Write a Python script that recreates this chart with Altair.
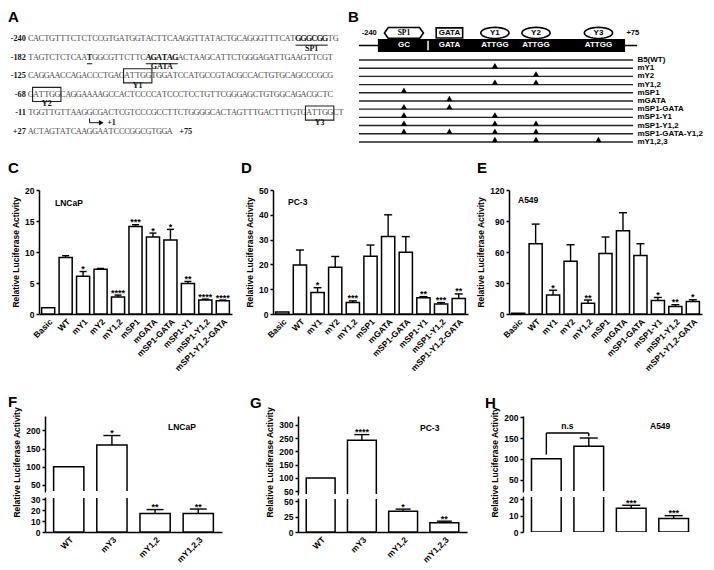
import altair as alt
import pandas as pd
import numpy as np

FONT = "Liberation Sans"
SERIF = "Liberation Serif"

# ---------------- Panel A : promoter sequence ----------------
seq_labels = ["-240", "-182", "-125", "-68", "-11", "+27"]
seq_lines = [
    "CACTGTTTCTCTCCGTGATGGTACTTCAAGGTTATACTGCAGGGTTTCATGGGCGGTG",
    "TAGTCTCTCAATGGCGTTCTTCAGATAGACTAAGCATTCTGGGAGATTGAAGTTCGT",
    "CAGGAACCAGACCCTGAGATTGGTGGATCCATGCCGTACGCCACTGTGCAGCCCGCG",
    "GATTGGCAGGAAAAGCCACTCCCCATCCCTCCTGTTCGGGAGCTGTGGCAGACGCTC",
    "TGGTTGTTAAGGCGACTCGTCCCGCCTTCTGGGGCACTAGTTTGACTTTGTGATTGGCT",
    "ACTAGTATCAAGGAATCCCGGCGTGGA",
]
end_label = "+75"
elem_names = ["SP1", "", "GATA", "Y1", "Y2", "Y3"]
elem_row = [0, 1, 1, 2, 3, 4]
elem_start = [50, 11, 22, 18, 1, 52]
elem_end = [55, 11, 27, 22, 5, 56]
elem_style = ["underline", "underline", "underline", "box", "box", "box"]
tss_row = 4
tss_index = 12

# ---------------- Panel B : constructs ----------------
site_names = ["SP1", "GATA", "Y1", "Y2", "Y3"]
site_core = ["GC", "GATA", "ATTGG", "ATTGG", "ATTGG"]
site_pos = [16.4, 33.0, 49.6, 64.6, 87.4]
construct_names = ["B5(WT)", "mY1", "mY2", "mY1,2", "mSP1", "mGATA", "mSP1-GATA",
                   "mSP1-Y1", "mSP1-Y1,2", "mSP1-GATA-Y1,2", "mY1,2,3"]
construct_sites = [[], ["Y1"], ["Y2"], ["Y1", "Y2"], ["SP1"], ["GATA"], ["SP1", "GATA"],
                   ["SP1", "Y1"], ["SP1", "Y1", "Y2"], ["SP1", "GATA", "Y1", "Y2"], ["Y1", "Y2", "Y3"]]

# ---------------- Panels C-E ----------------
cats11 = ["Basic", "WT", "mY1", "mY2", "mY1,2", "mSP1", "mGATA", "mSP1-GATA",
          "mSP1-Y1", "mSP1-Y1,2", "mSP1-Y1,2-GATA"]
lncap_vals = [1.0, 9.1, 6.1, 7.2, 2.75, 14.1, 12.4, 11.95, 4.9, 2.25, 2.15]
lncap_errs = [0.0, 0.3, 0.75, 0.15, 0.3, 0.3, 0.65, 1.7, 0.35, 0.15, 0.1]
lncap_stars = ["", "", "*", "", "****", "***", "*", "*", "**", "****", "****"]
pc3_vals = [0.8, 19.8, 8.7, 18.9, 4.6, 23.3, 31.2, 24.9, 6.6, 4.0, 6.2]
pc3_errs = [0.0, 6.0, 1.9, 4.3, 0.7, 4.5, 8.8, 6.3, 0.4, 0.6, 1.9]
pc3_stars = ["", "", "*", "", "***", "", "", "", "**", "***", "**"]
a549_vals = [0.8, 68.0, 18.5, 51.0, 10.5, 58.5, 80.5, 56.5, 13.0, 7.2, 12.0]
a549_errs = [0.0, 19.0, 4.5, 16.0, 3.0, 16.0, 17.5, 11.5, 3.0, 1.8, 1.8]
a549_stars = ["", "", "*", "", "**", "", "", "", "*", "**", "*"]

# ---------------- Panels F-H ----------------
cats4 = ["WT", "mY3", "mY1,2", "mY1,2,3"]
f_vals = [100, 160, 17, 17]
f_errs = [0, 26, 3.5, 4]
f_stars = ["", "*", "**", "**"]
g_vals = [100, 242, 33.5, 15]
g_errs = [0, 21, 3.5, 2.5]
g_stars = ["", "****", "*", "**"]
h_vals = [100, 130, 14.5, 8.3]
h_errs = [0, 20, 1.8, 1.7]
h_stars = ["", "", "***", "***"]
h_ns_label = "n.s"
h_ns_y = [162, 110, 154]

YTITLE = "Relative Luciferase Activity"


def one(**kw):
    return pd.DataFrame({k: [v] for k, v in kw.items()})


def letter_layer(t, x, y):
    return alt.Chart(one(t=t)).mark_text(
        font=FONT, fontSize=15, fontWeight="bold", color="black", align="left", baseline="middle"
    ).encode(x=alt.value(x), y=alt.value(y), text="t:N")


def cell_layer(t, x, y):
    return alt.Chart(one(t=t)).mark_text(
        font=FONT, fontSize=8.5, fontWeight="bold", color="black", align="left", baseline="middle"
    ).encode(x=alt.value(x), y=alt.value(y), text="t:N")


# ======================= Panel A chart =======================
sxA = alt.Scale(domain=[-4.24, 59.3], nice=False, zero=False)
syA = alt.Scale(domain=[-1.667, 5.968], nice=False, zero=False, reverse=True)


def XA(f):
    return alt.X(f, type="quantitative", scale=sxA, axis=None)


def YA(f):
    return alt.Y(f, type="quantitative", scale=syA, axis=None)


rows = []
bold_set = set()
for r, s, e, st in zip(elem_row, elem_start, elem_end, elem_style):
    if st == "underline":
        for j in range(s, e + 1):
            bold_set.add((r, j))
for r, line in enumerate(seq_lines):
    for j, c in enumerate(line):
        rows.append({"row": r, "i": j, "ch": c, "bold": (r, j) in bold_set})
char_df = pd.DataFrame(rows)
elem_df = pd.DataFrame({"name": elem_names, "row": elem_row, "start": elem_start,
                        "end": elem_end, "style": elem_style})

a_norm = alt.Chart(char_df[~char_df.bold]).mark_text(
    font=SERIF, fontSize=8.3, color="#4a4a4a", align="center", baseline="middle"
).encode(x=XA("i"), y=YA("row"), text="ch:N")
a_bold = alt.Chart(char_df[char_df.bold]).mark_text(
    font=SERIF, fontSize=8.3, fontWeight="bold", color="#111", align="center", baseline="middle"
).encode(x=XA("i"), y=YA("row"), text="ch:N")
lab_df = pd.DataFrame({"row": list(range(len(seq_labels))), "lab": seq_labels})
a_labs = alt.Chart(lab_df).mark_text(
    font=SERIF, fontSize=8.3, fontWeight="bold", color="#111", align="right", baseline="middle"
).encode(x=alt.X(datum=-0.9, type="quantitative", scale=sxA, axis=None), y=YA("row"), text="lab:N")
a_end = alt.Chart(one(row=len(seq_lines) - 1, i=len(seq_lines[-1]), lab=end_label)).mark_text(
    font=SERIF, fontSize=8.3, fontWeight="bold", color="#111", align="left", baseline="middle", dx=4
).encode(x=XA("i"), y=YA("row"), text="lab:N")
a_under = alt.Chart(elem_df[elem_df["style"] == "underline"]).transform_calculate(
    x0="datum.start - 0.5", x1="datum.end + 0.5", yy="datum.row + 0.33"
).mark_rule(color="#111", strokeWidth=1).encode(x=XA("x0"), x2="x1:Q", y=YA("yy"))
a_box = alt.Chart(elem_df[elem_df["style"] == "box"]).transform_calculate(
    x0="datum.start - 0.65", x1="datum.end + 0.65", y0="datum.row - 0.4", y1="datum.row + 0.36"
).mark_rect(fill=None, stroke="#222", strokeWidth=1.1).encode(x=XA("x0"), x2="x1:Q", y=YA("y0"), y2="y1:Q")
a_elab = alt.Chart(elem_df[elem_df["name"] != ""]).transform_calculate(
    xc="(datum.start + datum.end) / 2", yy="datum.row + 0.52"
).mark_text(font=SERIF, fontSize=8, fontWeight="bold", color="#111", baseline="middle").encode(
    x=XA("xc"), y=YA("yy"), text="name:N")
tss_df = one(row=tss_row, i=tss_index)
a_tss_v = alt.Chart(tss_df).transform_calculate(
    xx="datum.i - 1.0", y0="datum.row + 0.27", y1="datum.row + 0.5"
).mark_rule(color="#111", strokeWidth=1).encode(x=XA("xx"), y=YA("y0"), y2="y1:Q")
a_tss_h = alt.Chart(tss_df).transform_calculate(
    x0="datum.i - 1.0", x1="datum.i + 1.0", yy="datum.row + 0.5"
).mark_rule(color="#111", strokeWidth=1).encode(x=XA("x0"), x2="x1:Q", y=YA("yy"))
a_tss_head = alt.Chart(tss_df).transform_calculate(
    xx="datum.i + 1.2", yy="datum.row + 0.5"
).mark_point(shape="triangle-right", filled=True, color="#111", size=30, opacity=1).encode(x=XA("xx"), y=YA("yy"))
a_tss_t = alt.Chart(tss_df).transform_calculate(
    xx="datum.i + 2.3", yy="datum.row + 0.52"
).mark_text(font=SERIF, fontSize=8, fontWeight="bold", color="#111", align="left", baseline="middle", text="+1").encode(
    x=XA("xx"), y=YA("yy"))

chartA = alt.layer(a_norm, a_bold, a_labs, a_end, a_under, a_box, a_elab,
                   a_tss_v, a_tss_h, a_tss_head, a_tss_t, letter_layer("A", 0, 8.5)
                   ).properties(width=340, height=142)

# ======================= Panel B chart =======================
sxB = alt.Scale(domain=[0, 100], nice=False, zero=False)
syB = alt.Scale(domain=[-6.34, 10.98], nice=False, zero=False, reverse=True)


def XB(f):
    return alt.X(f, type="quantitative", scale=sxB, axis=None)


def YB(f):
    return alt.Y(f, type="quantitative", scale=syB, axis=None)


def XBd(v):
    return alt.X(datum=v, type="quantitative", scale=sxB, axis=None)


def YBd(v):
    return alt.Y(datum=v, type="quantitative", scale=syB, axis=None)


HEAD_Y = -3.3
BOX_Y = -1.77
site_df = pd.DataFrame({"site": site_names, "core": site_core, "pos": site_pos})
cons_df = pd.DataFrame({"name": construct_names, "row": list(range(len(construct_names)))})
mut_rows = []
for r, sites in enumerate(construct_sites):
    for s in sites:
        mut_rows.append({"row": r, "pos": site_pos[site_names.index(s)]})
mut_df = pd.DataFrame(mut_rows)

base_one = alt.Chart(one(a=0))
b_base = base_one.mark_rule(color="black", strokeWidth=1.5).encode(
    x=XBd(0), x2=alt.X2(datum=101.5), y=YBd(BOX_Y))
b_box = base_one.mark_rect(color="black").encode(
    x=XBd(6.9), x2=alt.X2(datum=97.1), y=YBd(-2.57), y2=alt.Y2(datum=-0.97))
b_sep = base_one.mark_rule(color="white", strokeWidth=1.5).encode(
    x=XBd(25.2), y=YBd(-2.35), y2=alt.Y2(datum=-1.2))
b_core = alt.Chart(site_df).mark_text(font=FONT, fontSize=8, fontWeight="bold", color="white",
                                      baseline="middle").encode(x=XB("pos"), y=YBd(BOX_Y), text="core:N")

hex_path = "M-1,0L-0.8,-0.28L0.8,-0.28L1,0L0.8,0.28L-0.8,0.28Z"
rect_path = "M-1,-0.38L1,-0.38L1,0.38L-1,0.38Z"
ang = np.linspace(0, 2 * np.pi, 33)[:-1]
ell_path = "M" + "L".join(f"{np.cos(a):.3f},{0.39 * np.sin(a):.3f}" for a in ang) + "Z"

b_hex = alt.Chart(site_df[site_df.site == "SP1"]).mark_point(
    shape=hex_path, size=1521, filled=True, fill="white", stroke="black", strokeWidth=1.6, opacity=1
).encode(x=XB("pos"), y=YBd(HEAD_Y))
b_rect = alt.Chart(site_df[site_df.site == "GATA"]).mark_point(
    shape=rect_path, size=700, filled=True, fill="white", stroke="black", strokeWidth=1.6, opacity=1
).encode(x=XB("pos"), y=YBd(HEAD_Y))
b_ell = alt.Chart(site_df[site_df.site.str.startswith("Y")]).mark_point(
    shape=ell_path, size=800, filled=True, fill="white", stroke="black", strokeWidth=1.6, opacity=1
).encode(x=XB("pos"), y=YBd(HEAD_Y))
b_head_sp1 = alt.Chart(site_df[site_df.site == "SP1"]).mark_text(
    font=SERIF, fontSize=7.5, fontWeight="bold", color="black", baseline="middle"
).encode(x=XB("pos"), y=YBd(HEAD_Y), text="site:N")
b_head_oth = alt.Chart(site_df[site_df.site != "SP1"]).mark_text(
    font=FONT, fontSize=8, fontWeight="bold", color="black", baseline="middle"
).encode(x=XB("pos"), y=YBd(HEAD_Y), text="site:N")
b_ends = alt.Chart(pd.DataFrame({"t": ["-240", "+75"], "p": [1.0, 97.6]})).mark_text(
    font=FONT, fontSize=7.5, fontWeight="bold", color="black", align="left", baseline="middle"
).encode(x=XB("p"), y=YBd(HEAD_Y), text="t:N")
b_lines = alt.Chart(cons_df).mark_rule(color="#222", strokeWidth=1.4).encode(
    x=XBd(0), x2=alt.X2(datum=100), y=YB("row"))
b_names = alt.Chart(cons_df).mark_text(
    font=FONT, fontSize=8, fontWeight="bold", color="black", align="left", baseline="middle"
).encode(x=XBd(101.6), y=YB("row"), text="name:N")
b_tri = alt.Chart(mut_df).mark_point(shape="triangle-up", filled=True, color="black", size=38,
                                     opacity=1, yOffset=-2.5).encode(x=XB("pos"), y=YB("row"))

chartB = alt.layer(b_base, b_box, b_sep, b_core, b_hex, b_rect, b_ell, b_head_sp1, b_head_oth,
                   b_ends, b_lines, b_names, b_tri, letter_layer("B", -11, 8.5)
                   ).properties(width=274, height=142)


# ======================= bar chart helpers =======================
def x_enc(cats, band):
    xs = alt.Scale(domain=cats, paddingInner=band[0], paddingOuter=band[1])
    ax = alt.Axis(title=None, labelAngle=315, labelAlign="right", labelBaseline="top",
                  ticks=False, labelPadding=3)
    return alt.X("cat:N", scale=xs, axis=ax, sort=cats)


def bar_layers(df, cats, band, ys, yax, capw, bar_filter, err_filter, star_filter, y2_datum):
    X = x_enc(cats, band)

    def Y(f):
        return alt.Y(f, type="quantitative", scale=ys, axis=yax)

    base = alt.Chart(df)
    bars = base.transform_filter(bar_filter).mark_bar(
        fill="white", stroke="black", strokeWidth=1.5, clip=True
    ).encode(x=X, y=Y("val"), y2=alt.datum(y2_datum))
    e = base.transform_filter(err_filter)
    rule = e.mark_rule(color="black", strokeWidth=1.4, clip=True).encode(x=X, y=Y("val"), y2="top:Q")
    cap = e.mark_tick(color="black", thickness=1.4, size=capw, clip=True, opacity=1).encode(x=X, y=Y("top"))
    st = base.transform_filter(star_filter).mark_text(
        font=FONT, fontSize=9, fontWeight="bold", color="black", baseline="alphabetic", dy=0.5
    ).encode(x=X, y=Y("top"), text="star:N")
    return [bars, rule, cap, st], Y


def make_df(cats, vals, errs, stars):
    df = pd.DataFrame({"cat": cats, "val": vals, "err": errs, "star": stars})
    df["top"] = df["val"] + df["err"]
    return df


def simple_bar(cats, vals, errs, stars, domain, ticks, width, height, capw, letter, letter_xy, cell, cell_xy):
    df = make_df(cats, vals, errs, stars)
    ys = alt.Scale(domain=domain, nice=False, zero=False)
    yax = alt.Axis(values=ticks, tickSize=3, labelPadding=2, title=YTITLE)
    layers, _ = bar_layers(df, cats, (0.25, 0.15), ys, yax, capw,
                           "true", "datum.err > 0", "datum.star != ''", 0)
    layers.append(cell_layer(cell, *cell_xy))
    layers.append(letter_layer(letter, *letter_xy))
    return alt.layer(*layers).properties(width=width, height=height)


def broken_bar(cats, vals, errs, stars, up_dom, up_ticks, low_dom, low_ticks, up_h, gap, low_h,
               width, capw, letter, letter_xy, cell, cell_xy, title_y, ns=None):
    df = make_df(cats, vals, errs, stars)
    band = (0.3, 0.2)
    total = up_h + gap + low_h
    ys_up = alt.Scale(domain=up_dom, range=[up_h, 0], nice=False, zero=False, clamp=True)
    ys_low = alt.Scale(domain=low_dom, range=[total, up_h + gap], nice=False, zero=False, clamp=True)
    ax_up = alt.Axis(values=up_ticks, tickSize=3, labelPadding=2, title=YTITLE, titleY=title_y, orient="left")
    ax_low = alt.Axis(values=low_ticks, tickSize=3, labelPadding=2, title=None, orient="left")
    lo_u, hi_l = up_dom[0], low_dom[1]
    up_layers, Yu = bar_layers(df, cats, band, ys_up, ax_up, capw,
                               f"datum.val > {lo_u}", f"datum.err > 0 && datum.val >= {lo_u}",
                               f"datum.star != '' && datum.val > {lo_u}", up_dom[0])
    low_layers, Yl = bar_layers(df, cats, band, ys_low, ax_low, capw,
                                "true", f"datum.err > 0 && datum.top <= {hi_l}",
                                f"datum.star != '' && datum.top < {hi_l} && datum.val <= {lo_u}", 0)
    if ns is not None:
        xs = alt.Scale(domain=cats, paddingInner=band[0], paddingOuter=band[1])
        bdf = pd.DataFrame({"c1": [cats[0]], "c2": [cats[1]], "yh": [ns[1][0]], "y1": [ns[1][1]],
                            "y2": [ns[1][2]], "t": [ns[0]]})
        b = alt.Chart(bdf)
        up_layers += [
            b.mark_rule(color="black", strokeWidth=1.4).encode(
                x=alt.X("c1:N", scale=xs, axis=None), x2="c2:N", y=Yu("yh")),
            b.mark_rule(color="black", strokeWidth=1.4).encode(
                x=alt.X("c1:N", scale=xs, axis=None), y=Yu("yh"), y2="y1:Q"),
            b.mark_rule(color="black", strokeWidth=1.4).encode(
                x=alt.X("c2:N", scale=xs, axis=None), y=Yu("yh"), y2="y2:Q"),
            b.mark_text(font=FONT, fontSize=8.5, fontWeight="bold", color="black",
                        baseline="bottom", dy=-2, dx=21).encode(
                x=alt.X("c1:N", scale=xs, axis=None), y=Yu("yh"), text="t:N"),
        ]
    up_layers.append(cell_layer(cell, *cell_xy))
    up_layers.append(letter_layer(letter, *letter_xy))
    mask = alt.Chart(one(a=0)).mark_rect(color="white").encode(
        x=alt.value(1), x2=alt.value(width + 2), y=alt.value(up_h - 0.9), y2=alt.value(up_h + gap + 0.9))
    upper = alt.layer(*up_layers)
    lower = alt.layer(*low_layers)
    return alt.layer(upper, lower, mask).resolve_scale(y="independent").resolve_axis(
        y="independent").properties(width=width, height=total)


chartC = simple_bar(cats11, lncap_vals, lncap_errs, lncap_stars, [0, 20], [0, 5, 10, 15, 20],
                    193, 124, 7, "C", (-31, -22), "LNCaP", (16, 13))
chartD = simple_bar(cats11, pc3_vals, pc3_errs, pc3_stars, [0, 50], [0, 10, 20, 30, 40, 50],
                    195, 124, 8, "D", (-32, -22), "PC-3", (15, 12))
chartE = simple_bar(cats11, a549_vals, a549_errs, a549_stars, [0, 120], [0, 30, 60, 90, 120],
                    193, 124, 8, "E", (-32, -22), "A549", (9, 10))

chartF = broken_bar(cats4, f_vals, f_errs, f_stars, [30, 240], [50, 100, 150, 200], [0, 32], [0, 10, 20, 30],
                    76, 5, 35, 177, 17, "F", (-37, -14), "LNCaP", (123, 11), 46)
chartG = broken_bar(cats4, g_vals, g_errs, g_stars, [36, 333], [50, 100, 150, 200, 250, 300], [0, 55], [0, 25, 50],
                    79, 3, 34, 169, 15, "G", (-48, -13), "PC-3", (122, 12), 46)
chartH = broken_bar(cats4, h_vals, h_errs, h_stars, [20, 203], [50, 100, 150, 200], [0, 22], [0, 10, 20],
                    76, 4, 36, 174, 18, "H", (-38, -13), "A549", (127, 10), 46,
                    ns=(h_ns_label, h_ns_y))


def sp(w, h, y0=0, y1=None):
    # invisible spacer; its transparent rect also fixes the vertical extent of its row
    return alt.Chart(one(a=0)).mark_rect(opacity=0).encode(
        x=alt.value(0), x2=alt.value(w), y=alt.value(y0), y2=alt.value(h if y1 is None else y1)
    ).properties(width=w, height=h)


row1 = alt.hconcat(chartA, sp(11, 142), chartB, spacing=0, bounds="flush")
row2 = alt.hconcat(sp(31, 124, -40, 190), chartC, sp(41, 124), chartD, sp(41, 124), chartE,
                   spacing=0, bounds="flush")
row3 = alt.hconcat(sp(37, 116, -36, 140), chartF, sp(76, 116), chartG, sp(56, 116), chartH,
                   spacing=0, bounds="flush")

chart = alt.vconcat(row1, row2, row3, spacing=0, padding=0, background="white").configure_view(
    stroke=None
).configure_axis(
    domainColor="black", domainWidth=1.5, tickColor="black", tickWidth=1.5,
    labelFont=FONT, labelFontSize=8.5, labelFontWeight="bold", labelColor="black",
    titleFont=FONT, titleFontSize=8.5, titleFontWeight="bold", titleColor="black",
    titlePadding=4, grid=False
).configure_text(font=FONT)

chart.save("out.html", embed_options={"renderer": "svg", "actions": False})
